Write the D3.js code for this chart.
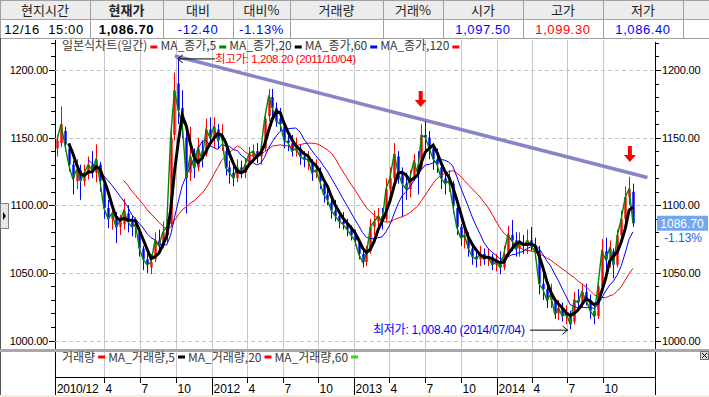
<!DOCTYPE html>
<html><head><meta charset="utf-8">
<script src="https://cdn.jsdelivr.net/npm/d3@7"></script>
<style>body{margin:0;background:#fff;}svg{display:block;}</style>
</head><body>
<svg id="c" width="709" height="397"></svg>
<script>
// ---------------- DATA ----------------
const headerLabels = ["현지시간","현재가","대비","대비%","거래량","거래%","시가","고가","저가",""];
const headerValues = ["","1,086.70","-12.40","-1.13%","","","1,097.50","1,099.30","1,086.40",""];
const headerTime = ["12/16","15:00"];
const firstDate = "2010-12-01", lastDate = "2014-12-16";
const opens = [
1142,1146,1155,1142,1130,1118,1126,1118,1124,1130,
1124,1130,1116,1098,1090,1092,1084,1086,1094,1088,
1084,1080,1068,1060,1054,1060,1074,1070,1078,1086,
1152,1190,1172,1150,1124,1134,1128,1140,1138,1156,
1150,1156,1148,1140,1128,1124,1120,1128,1124,1130,
1136,1140,1136,1142,1166,1180,1172,1164,1158,1148,
1146,1140,1142,1136,1132,1132,1124,1124,1116,1108,
1102,1096,1092,1088,1086,1082,1078,1072,1064,1058,
1066,1084,1088,1092,1090,1112,1120,1136,1124,1116,
1112,1120,1130,1128,1152,1150,1142,1134,1128,1120,
1116,1116,1098,1084,1076,1076,1068,1062,1060,1064,
1060,1062,1056,1058,1054,1064,1078,1074,1068,1072,
1070,1074,1070,1066,1042,1038,1030,1030,1020,1024,
1018,1018,1014,1030,1028,1036,1030,1022,1018,1040,
1066,1060,1066,1056,1078,1090,1106,1110];
const closes = [
1148,1160,1145,1130,1120,1126,1118,1124,1130,1126,
1134,1118,1098,1090,1094,1084,1088,1096,1088,1084,
1086,1068,1060,1056,1058,1074,1070,1080,1084,1150,
1185,1170,1160,1120,1136,1128,1142,1134,1156,1150,
1158,1148,1152,1128,1124,1120,1128,1124,1130,1138,
1140,1136,1140,1164,1180,1172,1162,1160,1148,1146,
1140,1142,1136,1134,1134,1124,1126,1118,1108,1104,
1096,1092,1088,1086,1082,1078,1074,1064,1058,1064,
1084,1088,1092,1088,1112,1120,1138,1124,1116,1112,
1120,1132,1124,1152,1150,1142,1134,1130,1120,1116,
1118,1100,1084,1076,1078,1068,1062,1060,1064,1060,
1062,1056,1058,1054,1064,1078,1074,1068,1072,1070,
1074,1070,1066,1042,1038,1030,1034,1020,1024,1018,
1020,1012,1030,1028,1036,1030,1022,1018,1040,1066,
1060,1068,1056,1078,1090,1106,1112,1086.7];
const highs = [
1152,1173,1158,1145,1133,1134,1130,1130,1136,1140,
1145,1132,1118,1104,1100,1095,1093,1105,1100,1092,
1091,1082,1070,1064,1064,1080,1082,1088,1090,1160,
1198,1208.2,1185,1160,1158,1142,1150,1148,1164,1165,
1165,1160,1160,1142,1133,1132,1134,1133,1135,1143,
1145,1146,1146,1168,1186,1186,1176,1172,1160,1155,
1152,1150,1145,1140,1140,1134,1134,1128,1118,1114,
1106,1104,1096,1095,1090,1085,1082,1075,1068,1070,
1090,1096,1098,1098,1120,1128,1146,1140,1128,1124,
1126,1138,1140,1160,1162,1155,1145,1142,1132,1126,
1126,1118,1100,1086,1086,1080,1070,1068,1070,1068,
1068,1064,1064,1066,1070,1085,1089,1080,1080,1078,
1082,1084,1076,1070,1050,1042,1042,1030,1030,1028,
1026,1022,1036,1038,1042,1042,1034,1028,1046,1075,
1076,1074,1068,1082,1096,1114,1121,1116];
const lows = [
1136,1143,1140,1125,1108,1112,1104,1114,1119,1120,
1117,1110,1090,1083,1082,1072,1078,1082,1080,1077,
1076,1062,1052,1050,1049,1058,1064,1068,1072,1084,
1148,1160,1150,1094,1118,1120,1125,1128,1136,1145,
1142,1142,1140,1122,1116,1114,1117,1120,1120,1129,
1132,1131,1130,1140,1162,1166,1158,1155,1142,1140,
1136,1136,1130,1128,1126,1118,1120,1112,1102,1100,
1090,1088,1083,1082,1077,1074,1070,1060,1054,1055,
1064,1078,1082,1082,1088,1108,1116,1116,1091,1104,
1106,1118,1108,1126,1140,1134,1126,1124,1112,1108,
1110,1094,1078,1070,1068,1062,1056,1054,1055,1056,
1055,1052,1051,1049,1052,1062,1066,1062,1062,1064,
1064,1066,1060,1034,1030,1024,1024,1016,1015,1014,
1012,1008.4,1012,1022,1024,1026,1016,1012,1016,1038,
1052,1054,1046,1054,1074,1088,1100,1084];
const maNames = ["MA_종가,5","MA_종가,20","MA_종가,60","MA_종가,120"];
const maWindows = [1,4,9,18];            // windows in samples (each sample ~ 7 sessions)
const volLegend = ["MA_거래량,5","MA_거래량,20","MA_거래량,60"];
const priceMajorTicks = [1000,1050,1100,1150,1200];
const monthTicks = ["2011-04","2011-07","2011-10","2012-01","2012-04","2012-07","2012-10","2013-01","2013-04","2013-07","2013-10","2014-01","2014-04","2014-07","2014-10"];
const monthLabels = ["4","7","10","2012","4","7","10","2013","4","7","10","2014","4","7","10"];
const trendDates = ["2011-09-29","2015-01-22"];
const trendValues = [1210.4,1120.5];
const arrowDates = ["2013-06-20","2014-12-08"];
const arrowValues = [1172.6,1132];
const highNote = {text:"최고가: 1,208.20 (2011/10/04)", date:"2011-10-04", value:1208.2};
const lowNote = {text:"최저가: 1,008.40 (2014/07/04)", date:"2014-07-04", value:1008.4};
const lastPrice = "1086.70", lastPct = "-1.13%", lastValue = 1086.7;

// ---------------- DRAW ----------------
const svg = d3.select("#c");
const parse = d3.timeParse("%Y-%m-%d"), parseM = d3.timeParse("%Y-%m");
const KR = "'Noto Sans CJK KR','Noto Sans',sans-serif";
const LS = "'Liberation Sans',Arial,sans-serif";
const LSK = "'Liberation Sans','Noto Sans CJK KR',sans-serif";
const d0 = parse(firstDate), d1 = parse(lastDate);
const span = d3.timeDay.count(d0,d1);
const data = closes.map((c,i)=>({date:d3.timeDay.offset(d0, Math.round(i*span/(closes.length-1))), o:opens[i], h:highs[i], l:lows[i], c}));

const L=55, R=655, T=40;
const x = d3.scaleTime().domain([d0,d1]).range([57,633]);
const y = d3.scaleLinear().domain([1000,1200]).range([340.5,70]);

// header table
const cols = [0,90,163,233,290,383,443,523,603,683,709];
svg.append("rect").attr("x",0).attr("y",0).attr("width",709).attr("height",19).attr("fill","#ececec");
const hg = svg.append("g").attr("stroke","#a0a0a0").attr("shape-rendering","crispEdges");
[0.5,19.5,38.5].forEach(v=>hg.append("line").attr("x1",0).attr("x2",709).attr("y1",v).attr("y2",v));
cols.slice(0,-1).forEach(c=>hg.append("line").attr("x1",c+0.5).attr("x2",c+0.5).attr("y1",0).attr("y2",38));
headerLabels.forEach((t,i)=>{
  svg.append("text").attr("x",(cols[i]+cols[i+1])/2).attr("y",14.5).attr("text-anchor","middle")
   .attr("font-family",KR).attr("font-size",13).attr("fill","#222").attr("font-weight",i===1?"bold":"normal").text(t);
});
const valColors = ["#000","#000","#0000ff","#0000ff","#000","#000","#0000ff","#ff0000","#0000ff","#000"];
headerValues.forEach((t,i)=>{
  svg.append("text").attr("x",(cols[i]+cols[i+1])/2).attr("y",33.5).attr("text-anchor","middle")
   .attr("font-family",LS).attr("font-size",13).attr("letter-spacing",0.6).attr("fill",valColors[i]).attr("font-weight",i===1?"bold":"normal").text(t);
});
svg.append("text").attr("x",22).attr("y",33.5).attr("text-anchor","middle").attr("font-family",LS).attr("font-size",13).attr("letter-spacing",0.6).text(headerTime[0]);
svg.append("text").attr("x",66).attr("y",33.5).attr("text-anchor","middle").attr("font-family",LS).attr("font-size",13).attr("letter-spacing",0.6).text(headerTime[1]);

// frame lines
const fr = svg.append("g").attr("shape-rendering","crispEdges");
fr.append("line").attr("x1",0.5).attr("x2",0.5).attr("y1",38).attr("y2",395).attr("stroke","#555");

// vertical month grid
const grid = svg.append("g").attr("shape-rendering","crispEdges");
monthTicks.forEach(m=>{
  const xx = Math.round(x(parseM(m)))+0.5;
  grid.append("line").attr("x1",xx).attr("x2",xx).attr("y1",T).attr("y2",377).attr("stroke","#c8c8c8");
});
// horizontal dashed grid
priceMajorTicks.forEach(v=>{
  const yy = Math.round(y(v))+0.5;
  grid.append("line").attr("x1",L).attr("x2",R).attr("y1",yy).attr("y2",yy).attr("stroke","#c4c4c4").attr("stroke-dasharray","4,3");
});

// separator between panels
svg.append("rect").attr("x",0).attr("y",349).attr("width",709).attr("height",3).attr("fill","#a8a8a8");

// trend line
svg.append("line").attr("x1",x(parse(trendDates[0]))).attr("y1",y(trendValues[0]))
  .attr("x2",x(parse(trendDates[1]))).attr("y2",y(trendValues[1]))
  .attr("stroke","#8585c8").attr("stroke-width",3.5);

// candles
const plot = svg.append("g");
const cw = 2.4;
plot.selectAll("line.w").data(data).enter().append("line")
  .attr("x1",d=>Math.round(x(d.date))+0.5).attr("x2",d=>Math.round(x(d.date))+0.5)
  .attr("y1",d=>y(d.h)).attr("y2",d=>y(d.l))
  .attr("stroke",d=>d.c>=d.o?"#ff0000":"#0000ff").attr("stroke-width",1);
plot.selectAll("rect.b").data(data).enter().append("rect")
  .attr("x",d=>Math.round(x(d.date))+0.5-cw/2).attr("width",cw)
  .attr("y",d=>y(Math.max(d.o,d.c))).attr("height",d=>Math.max(1,Math.abs(y(d.o)-y(d.c))))
  .attr("fill",d=>d.c>=d.o?"#ff0000":"#0000ff");

// moving averages
function sma(arr,n){return arr.map((v,i)=> i<n-1?null: d3.mean(arr.slice(i-n+1,i+1)));}
const maColors = ["#008800","#000000","#0000ff","#ff0000"];
const maWidths = [1.4,3,1,1];
const drawOrder = [3,2,0,1];
drawOrder.forEach(k=>{
  const vals = sma(closes, maWindows[k]);
  const ln = d3.line().defined(d=>d.v!=null).x(d=>x(d.date)).y(d=>y(d.v));
  plot.append("path").datum(data.map((d,i)=>({date:d.date,v:vals[i]})))
    .attr("d",ln).attr("fill","none").attr("stroke",maColors[k]).attr("stroke-width",maWidths[k]);
});

// red arrows
arrowDates.forEach((d,i)=>{
  const ax = x(parse(d)), ay = y(arrowValues[i]);
  svg.append("path").attr("d",`M${ax-2},${ay-16}h4v9h4l-6,7l-6,-7h4z`).attr("fill","#ff0000");
});

// annotations
const hx = x(parse(highNote.date)), hy = y(highNote.value);
svg.append("line").attr("x1",hx+1).attr("y1",hy).attr("x2",215).attr("y2",hy).attr("stroke","#000");
svg.append("path").attr("d",`M${hx+6},${hy-4}L${hx+1},${hy}L${hx+6},${hy+4}`).attr("fill","none").attr("stroke","#000");
svg.append("text").attr("x",215).attr("y",hy+4).attr("font-family",LSK).attr("font-size",11.5).attr("fill","#ff0000").attr("textLength",141).text(highNote.text);
const lx = x(parse(lowNote.date)), ly = y(lowNote.value)+1;
svg.append("line").attr("x1",530).attr("y1",ly).attr("x2",lx-1).attr("y2",ly).attr("stroke","#000");
svg.append("path").attr("d",`M${lx-6},${ly-4}L${lx-1},${ly}L${lx-6},${ly+4}`).attr("fill","none").attr("stroke","#000");
svg.append("text").attr("x",373).attr("y",ly+4).attr("font-family",LSK).attr("font-size",12).attr("fill","#0000ff").attr("textLength",152).text(lowNote.text);

// axes
const minor = d3.range(1000,1221,10);
function axisG(gen, tx){return svg.append("g").attr("transform",`translate(${tx},0)`).call(gen).call(g=>g.select(".domain").remove());}
const fmt = d3.format(".2f");
[["L",L],["R",R]].forEach(([side,tx])=>{
  const mk = side==="L"?d3.axisLeft:d3.axisRight;
  axisG(mk(y).tickValues(minor).tickSize(4).tickFormat(""), tx).selectAll("line").attr("stroke","#000").attr("shape-rendering","crispEdges");
  const g = axisG(mk(y).tickValues(priceMajorTicks).tickSize(6).tickPadding(1).tickFormat(fmt), tx);
  g.selectAll("line").attr("stroke","#000").attr("shape-rendering","crispEdges");
  g.selectAll("text").attr("font-family",LS).attr("font-size",11).attr("letter-spacing",-0.2).attr("fill","#000");
});
fr.append("line").attr("x1",L+0.5).attr("x2",L+0.5).attr("y1",T).attr("y2",395).attr("stroke","#000");
fr.append("line").attr("x1",R+0.5).attr("x2",R+0.5).attr("y1",42).attr("y2",397).attr("stroke","#000");

// x axis band
fr.append("line").attr("x1",L).attr("x2",R).attr("y1",377.5).attr("y2",377.5).attr("stroke","#000");
svg.append("rect").attr("x",0).attr("y",395).attr("width",709).attr("height",2).attr("fill","#f3eedb");
monthTicks.forEach((m,i)=>{
  const xx = Math.round(x(parseM(m)))+0.5;
  const yr = monthLabels[i].length===4;
  fr.append("line").attr("x1",xx).attr("x2",xx).attr("y1",377).attr("y2",yr?395:383).attr("stroke","#000");
  svg.append("text").attr("x",xx+1).attr("y",393).attr("font-family",LS).attr("font-size",12).text(monthLabels[i]);
});
svg.append("text").attr("x",57).attr("y",393).attr("font-family",LS).attr("font-size",12).attr("letter-spacing",-0.3).text("2010/12");

// legends
function legend(items, yy, base, fs){
  let cx = 62;
  items.forEach(it=>{
    if(it.t){
      const t = svg.append("text").attr("x",cx).attr("y",yy+base).attr("font-family",KR).attr("font-size",fs).attr("fill","#3a3a3a").text(it.t);
      cx += t.node().getComputedTextLength()+3;
    } else {
      svg.append("rect").attr("x",cx).attr("y",yy-1.5).attr("width",7).attr("height",3).attr("fill",it.c);
      cx += 10;
    }
  });
}
legend([{t:"일본식차트(일간)"},{c:"#ff0000"},{t:maNames[0]},{c:"#008800"},{t:maNames[1]},{c:"#000"},{t:maNames[2]},{c:"#0000ff"},{t:maNames[3]},{c:"#ff0000"}], 47, 3, 12);
legend([{t:"거래량"},{c:"#ff0000"},{t:volLegend[0]},{c:"#000"},{t:volLegend[1]},{c:"#ff0000"},{t:volLegend[2]},{c:"#22dd22"}], 357, 4.5, 12);

// last price tag
const py = y(lastValue);
svg.append("rect").attr("x",657).attr("y",py-7.5).attr("width",51).attr("height",15).attr("fill","#73a8f0");
svg.append("text").attr("x",682).attr("y",py+4.5).attr("text-anchor","middle").attr("font-family",LS).attr("font-size",12).attr("fill","#fff").text(lastPrice);
svg.append("text").attr("x",683).attr("y",py+19).attr("text-anchor","middle").attr("font-family",LS).attr("font-size",12).attr("fill","#1a5ee0").text(lastPct);

// left scroll button and close box
svg.append("rect").attr("x",0.5).attr("y",203.5).attr("width",8).attr("height",25).attr("fill","#e6e6e6").attr("stroke","#808080");
svg.append("path").attr("d","M3,212l3,4l-3,4z").attr("fill","#000");
svg.append("rect").attr("x",700.5).attr("y",351.5).attr("width",8).attr("height",8).attr("fill","#d8d8d8").attr("stroke","#707070");
svg.append("path").attr("d","M702,353l5,5M707,353l-5,5").attr("stroke","#000");
</script>
</body></html>
